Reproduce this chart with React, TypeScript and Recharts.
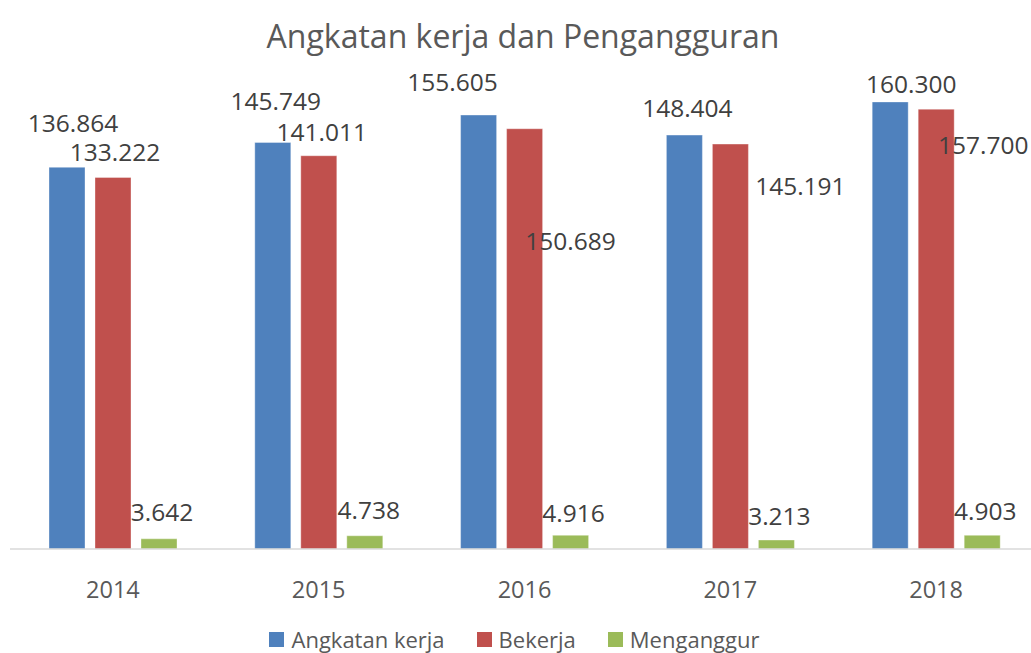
import { Bar, BarChart, LabelList, Legend, XAxis, YAxis } from "recharts";

const years = ["2014", "2015", "2016", "2017", "2018"];
const angkatanKerja = [136.864, 145.749, 155.605, 148.404, 160.3];
const bekerja = [133.222, 141.011, 150.689, 145.191, 157.7];
const menganggur = [3.642, 4.738, 4.916, 3.213, 4.903];

// label nudges (dx, dy from bar top-centre), placed by hand like the original sheet
const blueLabelShift = [[6, -45], [3, -42], [-26, -34], [3, -28], [21, -18]];
const redLabelShift = [[2, -26], [3, -24], [46, 112], [70, 41], [47, 35]];
const greenLabelShift = [[3, -27], [4, -26], [3, -23], [3, -25], [3, -25]];

const data = years.map((year, i) => ({
  year,
  angkatan: angkatanKerja[i],
  bekerja: bekerja[i],
  menganggur: menganggur[i],
}));

const series = [
  { key: "angkatan", name: "Angkatan kerja", color: "#4f81bd", shift: blueLabelShift },
  { key: "bekerja", name: "Bekerja", color: "#c0504d", shift: redLabelShift },
  { key: "menganggur", name: "Menganggur", color: "#9bbb59", shift: greenLabelShift },
];

const FONT = "'Open Sans', 'Noto Sans', sans-serif";

function makeLabel(shift: number[][]) {
  return (props: any) => {
    const { x, y, width, value, index } = props;
    const [dx, dy] = shift[index] ?? [0, -20];
    return (
      <text
        x={Number(x) + Number(width) / 2 + dx}
        y={Number(y) + dy}
        textAnchor="middle"
        dominantBaseline="central"
        fill="#404040"
        fontSize={24.5}
        fontFamily={FONT}
      >
        {Number(value).toFixed(3)}
      </text>
    );
  };
}

function YearTick(props: any) {
  const { x, payload } = props;
  return (
    <text
      x={x}
      y={589}
      textAnchor="middle"
      dominantBaseline="central"
      fill="#595959"
      fontSize={23.5}
      fontFamily={FONT}
    >
      {payload.value}
    </text>
  );
}

function LegendRow() {
  return (
    <div
      style={{
        display: "flex",
        justifyContent: "center",
        alignItems: "center",
        gap: 32,
        fontFamily: FONT,
        fontSize: 22,
        color: "#595959",
        paddingRight: 2,
      }}
    >
      {series.map((s) => (
        <div key={s.key} style={{ display: "flex", alignItems: "center", gap: 7 }}>
          <span style={{ width: 15, height: 15, background: s.color, display: "inline-block" }} />
          <span>{s.name}</span>
        </div>
      ))}
    </div>
  );
}

export default function App() {
  return (
    <div style={{ position: "absolute", left: 0, top: 0, width: 1031, height: 653, background: "#fff", overflow: "hidden" }}>
      <div
        style={{
          position: "absolute",
          top: 14,
          left: 0,
          width: 1046,
          textAlign: "center",
          fontFamily: FONT,
          fontSize: 32,
          color: "#595959",
        }}
      >
        Angkatan kerja dan Pengangguran
      </div>
      <BarChart
        width={1031}
        height={653}
        data={data}
        margin={{ top: 47, right: -8, left: 10, bottom: 103 }}
        barSize={36}
        barGap={10}
      >
        <XAxis
          dataKey="year"
          tickLine={false}
          axisLine={{ stroke: "#d9d9d9", strokeWidth: 1.5 }}
          tick={<YearTick />}
          height={1}
        />
        <YAxis hide domain={[0, 180]} width={0} />
        <Legend
          verticalAlign="middle"
          content={<LegendRow />}
          wrapperStyle={{ top: 624, left: 0, width: 1031 }}
        />
        {series.map((s) => (
          <Bar
            key={s.key}
            dataKey={s.key}
            name={s.name}
            fill={s.color}
            stroke="#ffffff"
            strokeOpacity={0.35}
            isAnimationActive={false}
          >
            <LabelList dataKey={s.key} content={makeLabel(s.shift)} />
          </Bar>
        ))}
      </BarChart>
    </div>
  );
}
